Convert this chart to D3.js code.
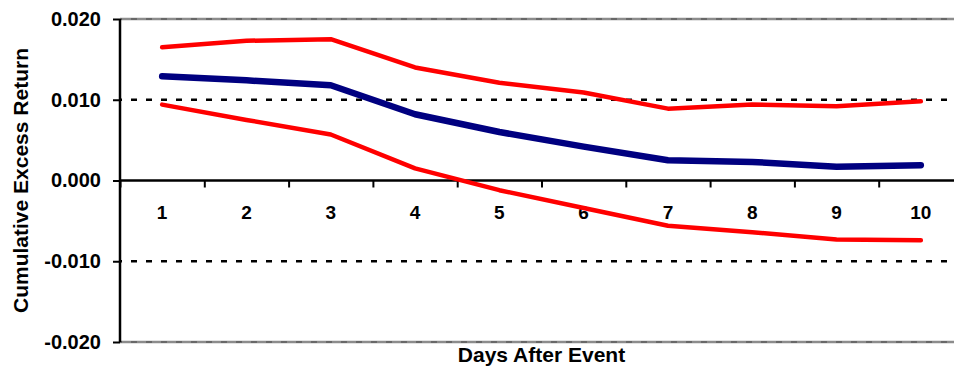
<!DOCTYPE html>
<html>
<head>
<meta charset="utf-8">
<script src="https://cdn.jsdelivr.net/npm/d3@7"></script>
<style>
  body { margin: 0; background: #fff; }
  svg { display: block; font-family: Arial, "Liberation Sans", sans-serif; font-weight: bold; }
</style>
</head>
<body>
<div id="chart"></div>
<script>
var days = [1, 2, 3, 4, 5, 6, 7, 8, 9, 10];
var meanCar  = [0.0129, 0.0124, 0.0118, 0.0082, 0.0060, 0.0042, 0.0025, 0.0023, 0.0017, 0.0019];
var upperCar = [0.0165, 0.0173, 0.0175, 0.0140, 0.0121, 0.0109, 0.0089, 0.0094, 0.0092, 0.0098];
var lowerCar = [0.0094, 0.0075, 0.0057, 0.0015, -0.0012, -0.0034, -0.0056, -0.0064, -0.0073, -0.0074];
var yTicks = [-0.02, -0.01, 0, 0.01, 0.02];
var yTickLabels = ["-0.020", "-0.010", "0.000", "0.010", "0.020"];

function init(){
    var w = 954;
    var h = 366;
    var left = 120, right = 963, top = 19, bottom = 342;

    var svg = d3.select("#chart")
                .append("svg")
                .attr("width", w)
                .attr("height", h);

    var x = d3.scaleBand()
                .domain(days)
                .range([left, right])
                .padding(0);

    var xb = d3.scaleLinear() // band edges, for the tick marks
                .domain([0, days.length])
                .range([left, right]);

    var y = d3.scaleLinear()
                .domain([-0.02, 0.02])
                .range([bottom, top]);

    // gridlines
    var grid = svg.append("g");
    yTicks.forEach(function(v) {
        if (v === 0) return;
        var edge = Math.abs(v) > 0.015;
        if (edge) {
            grid.append("line")
                .attr("x1", left).attr("x2", w)
                .attr("y1", y(v)).attr("y2", y(v))
                .attr("stroke", "#8c8c8c")
                .attr("stroke-width", 2.5);
        }
        grid.append("line")
            .attr("x1", left).attr("x2", w)
            .attr("y1", y(v)).attr("y2", y(v))
            .attr("stroke", edge ? "#444" : "#000")
            .attr("stroke-width", edge ? 1 : 2.5)
            .attr("stroke-dasharray", "6,9")
            .attr("stroke-dashoffset", -11);
    });

    // y axis
    var yAxis = d3.axisLeft(y)
                .tickValues(yTicks)
                .tickSize(7)
                .tickPadding(12)
                .tickFormat(function(d, i) { return yTickLabels[i]; });

    var gy = svg.append("g")
        .attr("transform", "translate(" + left + ",0)")
        .call(yAxis);
    gy.selectAll("text").attr("font-size", 20).attr("font-family", null).attr("fill", "#000");
    gy.selectAll("line").attr("stroke-width", 2);
    gy.select(".domain").attr("stroke-width", 2.5).attr("d", "M0," + top + "V" + bottom);

    // x axis at zero: tick marks at band edges
    var xTickAxis = d3.axisBottom(xb)
                .tickValues(d3.range(0, days.length + 1))
                .tickSize(7)
                .tickFormat("");
    var gxt = svg.append("g")
        .attr("transform", "translate(0," + y(0) + ")")
        .call(xTickAxis);
    gxt.select(".domain").attr("stroke-width", 2.5).attr("d", "M" + left + ",0H" + right);
    gxt.selectAll("line").attr("stroke-width", 2);

    // x labels
    var xAxis = d3.axisBottom(x).tickSize(0).tickPadding(25);
    var gx = svg.append("g")
        .attr("transform", "translate(0," + y(0) + ")")
        .call(xAxis);
    gx.select(".domain").remove();
    gx.selectAll("text").attr("font-size", 19).attr("font-family", null).attr("fill", "#000");

    // series
    var line = d3.line()
        .x(function(d, i) { return x(days[i]) + x.bandwidth() / 2; })
        .y(function(d) { return y(d); });

    [[upperCar, "#ff0000", 4.5], [lowerCar, "#ff0000", 4.5], [meanCar, "#000080", 6.5]].forEach(function(s) {
        svg.append("path")
            .datum(s[0])
            .attr("d", line)
            .attr("fill", "none")
            .attr("stroke", s[1])
            .attr("stroke-width", s[2])
            .attr("stroke-linecap", "round")
            .attr("stroke-linejoin", "round");
    });

    // titles
    svg.append("text")
        .attr("transform", "translate(28," + ((top + bottom) / 2) + ") rotate(-90)")
        .attr("text-anchor", "middle")
        .attr("font-size", 21)
        .text("Cumulative Excess Return");

    svg.append("text")
        .attr("x", (left + right) / 2)
        .attr("y", 362)
        .attr("text-anchor", "middle")
        .attr("font-size", 21)
        .text("Days After Event");
}
window.onload = init;
</script>
</body>
</html>
